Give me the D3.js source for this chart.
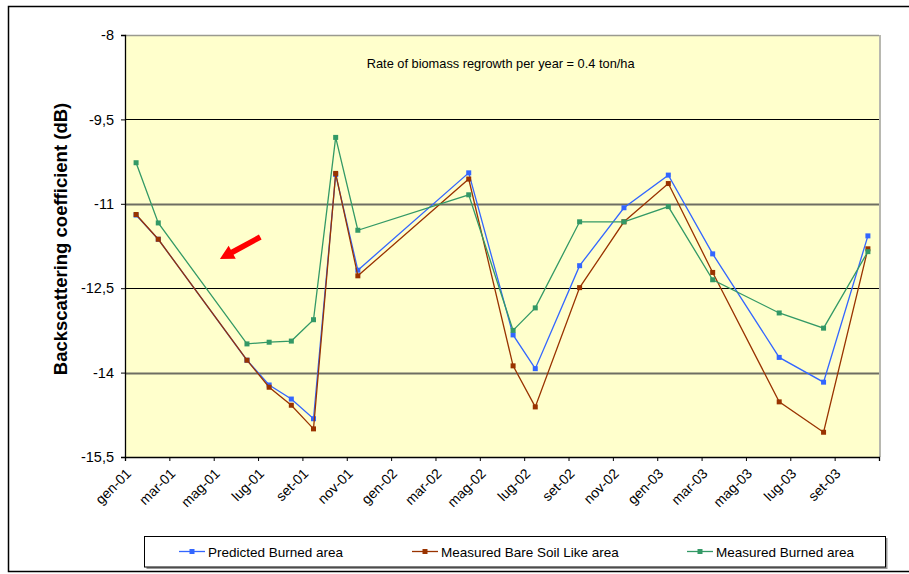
<!DOCTYPE html>
<html>
<head>
<meta charset="utf-8">
<script src="https://cdn.jsdelivr.net/npm/d3@7"></script>
<style>
  html, body { margin: 0; padding: 0; background: #fff; }
  svg { display: block; font-family: "Liberation Sans", Arial, sans-serif; }
</style>
</head>
<body>
<svg id="chart" width="909" height="574"></svg>
<script>
// Sampling dates (year-month) of the backscatter observations
const sampleMonths = ["2001-01","2001-02","2001-06","2001-07","2001-08","2001-09","2001-10","2001-11",
  "2002-04","2002-06","2002-07","2002-09","2002-11","2003-01","2003-03","2003-06","2003-08","2003-10"];

// Backscattering coefficient (dB) per series
const predictedBurned = [-11.20,-11.63,-13.78,-14.22,-14.47,-14.82,-10.48,-12.18,
  -10.45,-13.33,-13.93,-12.10,-11.07,-10.49,-11.89,-13.73,-14.17,-11.57];
const measuredBareSoil = [-11.19,-11.63,-13.78,-14.26,-14.58,-15.00,-10.46,-12.28,
  -10.56,-13.88,-14.61,-12.49,-11.32,-10.64,-12.22,-14.52,-15.06,-11.80];
const measuredBurned = [-10.27,-11.34,-13.49,-13.46,-13.44,-13.06,-9.82,-11.47,
  -10.84,-13.25,-12.85,-11.32,-11.32,-11.05,-12.35,-12.94,-13.21,-11.85];

const seriesNames = ["Predicted Burned area","Measured Bare Soil Like area","Measured Burned area"];
const seriesColors = ["#3366FF","#993300","#339966"];

// Axis ticks
const xTickLabels = ["gen-01","mar-01","mag-01","lug-01","set-01","nov-01","gen-02","mar-02","mag-02",
  "lug-02","set-02","nov-02","gen-03","mar-03","mag-03","lug-03","set-03"];
const yTickValues = [-8,-9.5,-11,-12.5,-14,-15.5];

const svg = d3.select("#chart");
const plot = { left: 125, top: 35, right: 879, bottom: 457 };

// month index since Jan 2001; each month is one cell, points sit mid-cell
const monthIndex = s => { const [y, m] = s.split("-").map(Number); return (y - 2001) * 12 + (m - 1); };

const x = d3.scaleLinear().domain([0, 34]).range([plot.left, plot.right]);
const y = d3.scaleLinear().domain([-15.5, -8]).range([plot.bottom, plot.top]);

// outer frame
svg.append("path")
  .attr("d", "M909,6.5 H8.5 V571.5 H909")
  .attr("fill", "none").attr("stroke", "#000").attr("stroke-width", 1.5);

// plot background with soft right/top shading
svg.append("rect")
  .attr("x", plot.left + 2).attr("y", plot.top)
  .attr("width", plot.right - plot.left).attr("height", plot.bottom - plot.top)
  .attr("fill", "#b8b8b0");
svg.append("rect")
  .attr("x", plot.left).attr("y", plot.top)
  .attr("width", plot.right - plot.left).attr("height", plot.bottom - plot.top)
  .attr("fill", "#FFFFCC");
svg.append("line")
  .attr("x1", plot.left).attr("x2", plot.right)
  .attr("y1", plot.top + 0.5).attr("y2", plot.top + 0.5)
  .attr("stroke", "#9a9a90").attr("stroke-width", 1.5);

// horizontal gridlines
svg.append("g").selectAll("line")
  .data(yTickValues.filter(v => v !== -15.5 && v !== -8))
  .join("line")
  .attr("x1", plot.left).attr("x2", plot.right)
  .attr("y1", d => Math.round(y(d)) + 0.5).attr("y2", d => Math.round(y(d)) + 0.5)
  .attr("stroke", (d, i) => i % 2 === 0 ? "#000" : "#6e6e62")
  .attr("stroke-width", (d, i) => i % 2 === 0 ? 1 : 2);

// y axis
const yAxis = d3.axisLeft(y)
  .tickValues(yTickValues)
  .tickSize(4).tickPadding(7)
  .tickFormat(d => String(d).replace(".", ","));
const gy = svg.append("g").attr("transform", `translate(${plot.left},0)`).call(yAxis);
gy.select(".domain").attr("stroke", "#000").attr("stroke-width", 1.3);
gy.selectAll(".tick line").attr("stroke", "#000");
gy.selectAll(".tick text").attr("font-size", 14.5).attr("fill", "#000")
  .attr("font-family", "'Liberation Sans', Arial, sans-serif");

// x axis (ticks every two months)
const xTickValues = d3.range(0, 35, 2);
const xAxis = d3.axisBottom(x)
  .tickValues(xTickValues)
  .tickSize(4)
  .tickFormat((d, i) => xTickLabels[i] || "");
const gx = svg.append("g").attr("transform", `translate(0,${plot.bottom})`).call(xAxis);
gx.select(".domain").attr("stroke", "#000").attr("stroke-width", 1.3);
gx.selectAll(".tick line").attr("stroke", "#000");
gx.selectAll(".tick text")
  .attr("font-size", 14).attr("fill", "#000")
  .attr("font-family", "'Liberation Sans', Arial, sans-serif")
  .attr("text-anchor", "end")
  .attr("dy", "0.35em")
  .attr("transform", "translate(3,14) rotate(-45)")
  .attr("y", 0).attr("x", 0);

// y axis title
svg.append("text")
  .attr("transform", `translate(67,${(plot.top + plot.bottom) / 2 - 7}) rotate(-90)`)
  .attr("text-anchor", "middle")
  .attr("font-size", 18.5).attr("font-weight", "bold")
  .text("Backscattering coefficient (dB)");

// annotation
svg.append("text")
  .attr("x", x(10.9)).attr("y", y(-8.59))
  .attr("font-size", 12.8)
  .text("Rate of biomass regrowth per year = 0.4 ton/ha");

// red arrow pointing down-left
(function drawArrow() {
  const tail = [x(6.1), y(-11.59)], tip = [x(4.28), y(-11.98)];
  const dx = tip[0] - tail[0], dy = tip[1] - tail[1], len = Math.hypot(dx, dy);
  const ux = dx / len, uy = dy / len, nx = -uy, ny = ux;
  const sw = 2.8, hw = 7.5, hl = 14;
  const bx = tip[0] - ux * hl, by = tip[1] - uy * hl;
  const pts = [
    [tail[0] + nx * sw, tail[1] + ny * sw],
    [bx + nx * sw, by + ny * sw],
    [bx + nx * hw, by + ny * hw],
    tip,
    [bx - nx * hw, by - ny * hw],
    [bx - nx * sw, by - ny * sw],
    [tail[0] - nx * sw, tail[1] - ny * sw]
  ];
  svg.append("polygon").attr("points", pts.map(p => p.join(",")).join(" ")).attr("fill", "#FF0000");
})();

// series lines and markers
const seriesValues = [predictedBurned, measuredBareSoil, measuredBurned];
const line = d3.line().x(d => x(d.m + 0.5)).y(d => y(d.v));
seriesValues.forEach((vals, si) => {
  const pts = vals.map((v, i) => ({ m: monthIndex(sampleMonths[i]), v }));
  const g = svg.append("g");
  g.append("path").datum(pts)
    .attr("d", line).attr("fill", "none")
    .attr("stroke", seriesColors[si]).attr("stroke-width", 1.3);
  g.selectAll("rect").data(pts).join("rect")
    .attr("x", d => x(d.m + 0.5) - 2.5).attr("y", d => y(d.v) - 2.5)
    .attr("width", 5).attr("height", 5)
    .attr("fill", seriesColors[si]);
});

// legend
const legend = svg.append("g");
legend.append("rect").attr("x", 146.5).attr("y", 538).attr("width", 741).attr("height", 31).attr("fill", "#999");
legend.append("rect").attr("x", 144.5).attr("y", 536.5).attr("width", 741).attr("height", 30.5)
  .attr("fill", "#fff").attr("stroke", "#000").attr("stroke-width", 1);
const legendX = [179, 412, 687];
seriesNames.forEach((name, i) => {
  const gi = legend.append("g").attr("transform", `translate(${legendX[i]},551.5)`);
  gi.append("line").attr("x1", 0).attr("x2", 26).attr("stroke", seriesColors[i]).attr("stroke-width", 1.3);
  gi.append("rect").attr("x", 10.5).attr("y", -2.5).attr("width", 5).attr("height", 5).attr("fill", seriesColors[i]);
  gi.append("text").attr("x", 29).attr("y", 5).attr("font-size", 13.5).text(name);
});
</script>
</body>
</html>
